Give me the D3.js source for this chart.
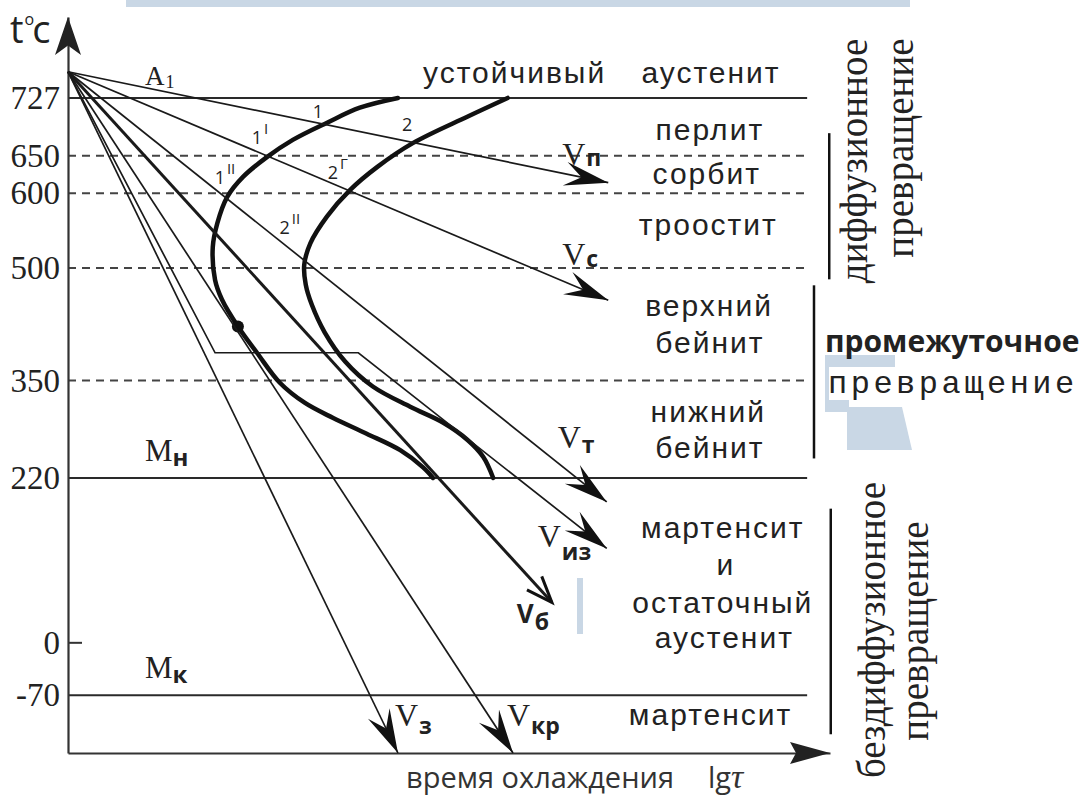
<!DOCTYPE html>
<html>
<head>
<meta charset="utf-8">
<script src="https://cdnjs.cloudflare.com/ajax/libs/d3/7.8.5/d3.min.js"></script>
<style>
  body { margin: 0; background: #fff; }
  svg text { fill: #222; }
</style>
</head>
<body>
<div id="graph"></div>
<script>
// Temperature ticks on the left axis
var tempTicks = [727, 650, 600, 500, 350, 220, 0, -70];
var solidLevels = [727, 220, -70];
var dashedLevels = [650, 600, 500, 350];

// Cooling rays (lg tau, t), all start from the heating point
var rayNames = ["п", "с", "т", "из", "б", "кр", "з"];
var rayTau  = [[0, 7.09], [0, 7.09], [0, 7.07], [0, 1.93, 3.81, 7.07], [0, 6.35], [0, 5.84], [0, 4.33]];
var rayTemp = [[762, 614], [762, 457], [762, 188], [762, 387, 387, 126], [762, 54], [762, -147], [762, -147]];

// C-curves: start and end of the transformation
var startTau  = [4.33, 3.83, 3.40, 2.95, 2.61, 2.30, 2.09, 1.96, 1.90, 1.93, 2.02, 2.23, 2.48, 2.78, 3.11, 3.48, 3.92, 4.36, 4.66, 4.79];
var startTemp = [727, 714, 694, 671, 648, 622, 595, 560, 528, 484, 458, 422, 387, 347, 320, 300, 279, 257, 234, 220];
var endTau  = [5.77, 5.24, 4.53, 4.06, 3.70, 3.40, 3.18, 3.10, 3.12, 3.20, 3.37, 3.64, 4.00, 4.49, 4.92, 5.24, 5.45, 5.58];
var endTemp = [727, 702, 667, 635, 604, 569, 533, 504, 478, 451, 414, 375, 342, 315, 294, 271, 248, 220];

// Point marks on the curves
var markNum = ["1", "2", "1", "1", "2", "2"];
var markSup = ["", "", "I", "II", "Г", "II"];
var markTau = [3.28, 4.45, 2.52, 2.06, 3.54, 2.91];
var markTemp = [700, 683, 666, 612, 619, 545];

// Structure names on the right
var phaseNames = ["перлит", "сорбит", "троостит", "верхний", "бейнит", "нижний", "бейнит", "мартенсит", "и", "остаточный", "аустенит", "мартенсит"];
var phaseTau = [8.41, 8.37, 8.39, 8.40, 8.41, 8.39, 8.41, 8.58, 8.62, 8.58, 8.60, 8.42];
var phaseTemp = [671, 612, 544, 436, 387, 295, 247, 140, 90, 40, -7, -110];

var width = 1087, height = 800;

var svg = d3.select("#graph").append("svg").attr("width", width).attr("height", height);

var x = d3.scaleLinear().domain([0, 10]).range([68, 830]);
var y = d3.scaleLinear().domain([-147, 835]).range([753, 17]);

//light blue page decorations from the source page
var deco = "#c9d7e5";
svg.append("rect").attr("x", 126).attr("y", 0).attr("width", 784).attr("height", 7).attr("fill", deco);
svg.append("rect").attr("x", 825).attr("y", 355).attr("width", 70).attr("height", 12).attr("fill", deco);
svg.append("rect").attr("x", 825).attr("y", 367).attr("width", 4).attr("height", 45).attr("fill", deco);
svg.append("rect").attr("x", 827).attr("y", 400).attr("width", 22).attr("height", 12).attr("fill", deco);
svg.append("path").attr("d", "M847,407L902,407L912,450L847,450Z").attr("fill", deco);
svg.append("rect").attr("x", 577).attr("y", 578).attr("width", 6).attr("height", 56).attr("fill", deco);

//Level lines
svg.selectAll(".solid").data(solidLevels).enter().append("line")
  .attr("x1", x(0)).attr("x2", x(9.7))
  .attr("y1", function(d) { return y(d); }).attr("y2", function(d) { return y(d); })
  .attr("stroke", "#2a2a2a").attr("stroke-width", 2);

svg.selectAll(".dash").data(dashedLevels).enter().append("line")
  .attr("x1", x(0)).attr("x2", x(9.7))
  .attr("y1", function(d) { return y(d); }).attr("y2", function(d) { return y(d); })
  .attr("stroke", "#444").attr("stroke-width", 2).attr("stroke-dasharray", "8,6");

//Axes
var yAxis = svg.append("g").attr("transform", "translate(" + x(0) + ",0)")
  .call(d3.axisLeft(y).tickValues(tempTicks).tickSize(0).tickPadding(8)
    .tickFormat(function(d) { return String(d); }));
yAxis.select(".domain").attr("stroke", "#333").attr("stroke-width", 2.2);
yAxis.selectAll("text").attr("font-family", "Liberation Serif").attr("font-size", 33).attr("fill", "#222");

var xAxis = svg.append("g").attr("transform", "translate(0," + y(-147) + ")")
  .call(d3.axisBottom(x).tickValues([]).tickSizeOuter(0));
xAxis.select(".domain").attr("stroke", "#333").attr("stroke-width", 2.2);

//small tick at 0
svg.append("line").attr("x1", x(0)).attr("x2", x(0) + 14).attr("y1", y(0)).attr("y2", y(0))
  .attr("stroke", "#333").attr("stroke-width", 2);

//arrow helpers
function head(tip, from, len, half, notch) {
  var dx = tip[0] - from[0], dy = tip[1] - from[1], L = Math.hypot(dx, dy);
  var ux = dx / L, uy = dy / L, nx = -uy, ny = ux;
  var bx = tip[0] - ux * len, by = tip[1] - uy * len;
  var nb = [tip[0] - ux * len * notch, tip[1] - uy * len * notch];
  return "M" + tip + "L" + [bx + nx * half, by + ny * half] + "L" + nb + "L" + [bx - nx * half, by - ny * half] + "Z";
}

//y axis arrow
svg.append("path").attr("d", head([x(0), y(835)], [x(0), y(700)], 38, 13, 0.75)).attr("fill", "#222");
//x axis arrow
svg.append("path").attr("d", head([x(10), y(-147)], [x(0), y(-147)], 40, 11, 0.85)).attr("fill", "#222");

//C-curves
var curve = d3.line().x(function(d) { return x(d[0]); }).y(function(d) { return y(d[1]); }).curve(d3.curveCatmullRom);
svg.append("path").attr("d", curve(d3.zip(startTau, startTemp)))
  .attr("fill", "none").attr("stroke", "#111").attr("stroke-width", 4.5).attr("stroke-linecap", "round");
svg.append("path").attr("d", curve(d3.zip(endTau, endTemp)))
  .attr("fill", "none").attr("stroke", "#111").attr("stroke-width", 4.5).attr("stroke-linecap", "round");
svg.append("circle").attr("cx", x(startTau[11])).attr("cy", y(startTemp[11])).attr("r", 6).attr("fill", "#111");

//Rays
var straight = d3.line().x(function(d) { return x(d[0]); }).y(function(d) { return y(d[1]); });
rayNames.forEach(function(name, i) {
  var pts = d3.zip(rayTau[i], rayTemp[i]);
  var bold = name === "б";
  svg.append("path").attr("d", straight(pts))
    .attr("fill", "none").attr("stroke", "#1a1a1a").attr("stroke-width", bold ? 3 : 1.7);
  var n = pts.length;
  var tip = [x(pts[n - 1][0]), y(pts[n - 1][1])];
  var from = [x(pts[n - 2][0]), y(pts[n - 2][1])];
  if (bold) {
    var dx = tip[0] - from[0], dy = tip[1] - from[1], L = Math.hypot(dx, dy);
    var ux = dx / L, uy = dy / L;
    var a = [tip[0] - ux * 26 - uy * 10, tip[1] - uy * 26 + ux * 10];
    var b = [tip[0] - ux * 26 + uy * 10, tip[1] - uy * 26 - ux * 10];
    svg.append("path").attr("d", "M" + a + "L" + tip + "L" + b)
      .attr("fill", "none").attr("stroke", "#111").attr("stroke-width", 3);
  } else {
    svg.append("path").attr("d", head(tip, from, 44, 12, 0.62)).attr("fill", "#111");
  }
});

//Ray labels
var labelOff = {"п": [-46, -18, 1], "с": [-46, -35, 2], "т": [-49, -54, 5], "из": [-69, -1, 13],
                "б": [-35, 21, 7], "кр": [-6, -27, 8], "з": [-3, -27, 8]};
rayNames.forEach(function(name, i) {
  var n = rayTau[i].length;
  var tx = x(rayTau[i][n - 1]), ty = y(rayTemp[i][n - 1]);
  var o = labelOff[name];
  var t = svg.append("text").attr("x", tx + o[0]).attr("y", ty + o[1]);
  if (name === "б") {
    t.append("tspan").text("V").attr("font-family", "Open Sans").attr("font-weight", "bold").attr("font-size", 26);
  } else {
    t.append("tspan").text("V").attr("font-family", "Liberation Serif").attr("font-size", 32);
  }
  t.append("tspan").text(name).attr("dy", o[2]).attr("dx", 1)
    .attr("font-family", "Open Sans").attr("font-weight", "bold").attr("font-size", 23);
});

//Curve point marks
markNum.forEach(function(m, i) {
  var t = svg.append("text").attr("x", x(markTau[i])).attr("y", y(markTemp[i]))
    .attr("font-family", "Open Sans").attr("font-size", 18).attr("text-anchor", "middle");
  t.append("tspan").text(m);
  if (markSup[i]) t.append("tspan").text(markSup[i]).attr("dy", -10).attr("dx", 2).attr("font-size", 15);
});

//Level names
var A = svg.append("text").attr("x", 145).attr("y", 85).attr("font-family", "Liberation Serif").attr("font-size", 27);
A.append("tspan").text("A");
A.append("tspan").text("1").attr("font-size", 18).attr("dx", 1).attr("dy", 3);
[["н", 220], ["к", -70]].forEach(function(m) {
  var t = svg.append("text").attr("x", 145).attr("y", y(m[1]) - 17);
  t.append("tspan").text("M").attr("font-family", "Liberation Serif").attr("font-size", 31);
  t.append("tspan").text(m[0]).attr("dy", 5).attr("font-family", "Open Sans").attr("font-weight", "bold").attr("font-size", 24);
});

//Axis titles
var tc = svg.append("text").attr("x", 10).attr("y", 43).attr("font-family", "Open Sans").attr("font-size", 38);
tc.append("tspan").text("t");
tc.append("tspan").text("o").attr("font-size", 16).attr("dy", -18).attr("dx", 1);
tc.append("tspan").text("c").attr("dy", 18).attr("dx", -2);

var xt = svg.append("text").attr("x", 406).attr("y", 788).attr("font-family", "Open Sans").attr("font-size", 29);
xt.append("tspan").text("время охлаждения").style("fill", "#333");
xt.append("tspan").text("lg").attr("dx", 34).style("fill", "#333");
xt.append("tspan").text("τ").attr("font-family", "Liberation Serif").attr("font-style", "italic").attr("font-size", 34).style("fill", "#333");

//Phase names
var phaseFont = "Liberation Sans";
svg.append("text").attr("x", 423).attr("y", 83).attr("font-family", phaseFont).attr("font-size", 30)
  .attr("letter-spacing", 2).text("устойчивый");
svg.append("text").attr("x", 711).attr("y", 83).attr("text-anchor", "middle").attr("font-family", phaseFont).attr("font-size", 30)
  .attr("letter-spacing", 2).text("аустенит");
svg.selectAll(".phase").data(phaseNames).enter().append("text")
  .attr("x", function(d, i) { return x(phaseTau[i]) + 1; })
  .attr("y", function(d, i) { return y(phaseTemp[i]); })
  .attr("text-anchor", "middle").attr("font-family", phaseFont).attr("font-size", 30).attr("letter-spacing", 2)
  .text(function(d) { return d; });

//Brackets
var brackets = [[9.99, 680, 485], [9.79, 477, 246], [10.01, 179, -122]];
brackets.forEach(function(b) {
  svg.append("line").attr("x1", x(b[0])).attr("x2", x(b[0])).attr("y1", y(b[1])).attr("y2", y(b[2]))
    .attr("stroke", "#111").attr("stroke-width", 2.5);
});

//Transformation names
function vtext(tx, ty, s) {
  svg.append("text").attr("transform", "translate(" + tx + "," + ty + ") rotate(-90)")
    .attr("text-anchor", "middle").attr("font-family", "Liberation Serif").attr("font-size", 39).text(s);
}
vtext(867, 161, "диффузионное");
vtext(913, 148, "превращение");
vtext(885, 630, "бездиффузионное");
vtext(928, 631, "превращение");

svg.append("text").attr("x", 825).attr("y", 352).attr("font-family", "Open Sans").attr("font-weight", "bold").attr("font-size", 30).text("промежуточное");
svg.append("text").attr("x", 828).attr("y", 393).attr("font-family", "Liberation Mono").attr("font-size", 32).attr("letter-spacing", 3.5).text("превращение");
</script>
</body>
</html>
